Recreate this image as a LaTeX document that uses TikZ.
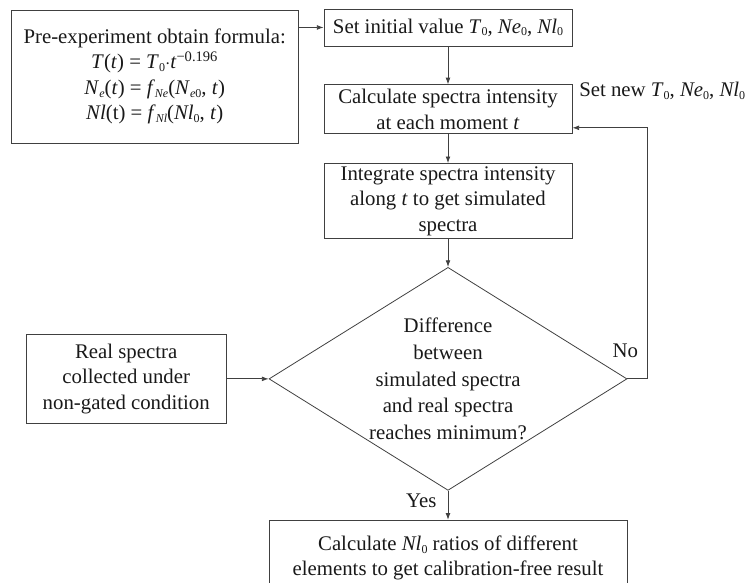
\documentclass[tikz,border=0pt]{standalone}
\usepackage{fontspec}
\setmainfont{Liberation Serif}
\usetikzlibrary{arrows.meta, positioning, shapes.geometric}

\newcommand{\vi}[1]{\textit{#1}}
\newcommand{\sbs}[1]{\raisebox{-0.3ex}{\fontsize{9}{9}\selectfont #1}}

\begin{document}
\begin{tikzpicture}[>={Latex[length=5pt,width=3.6pt]}, line width=0.6pt, text=black!90,
    font=\fontsize{15.6}{19.1}\selectfont,
    box/.style={draw=black!75, align=center, inner sep=2pt},
    conn/.style={->, draw=black!75}]
    \useasboundingbox (0,0) rectangle (561pt,-436.5pt);

    % Main column
    \node[box, minimum width=186pt, minimum height=27.75pt] (init) at (336pt,-20.6pt) {Set initial value \vi{T}\sbs{0}, \vi{Ne}\sbs{0}, \vi{Nl}\sbs{0}};
    \node[box, minimum width=186pt, minimum height=36.75pt, below=28.5pt of init] (calc) {Calculate spectra intensity\\at each moment \vi{t}};
    \node[box, minimum width=186pt, minimum height=56.25pt, below=21.75pt of calc] (integ) {Integrate spectra intensity\\along \vi{t} to get simulated\\spectra};

    % Decision
    \node[draw=black!75, diamond, aspect=1.6, inner sep=0pt, minimum width=268.5pt, minimum height=167.25pt, align=center,
          font=\fontsize{15.6}{19.9}\selectfont, below=21pt of integ] (dec) {Difference\\between\\simulated spectra\\and real spectra\\reaches minimum?};

    % Result
    \node[box, minimum width=268.5pt, minimum height=57pt, below=21.75pt of dec] (result) {Calculate \vi{Nl}\sbs{0} ratios of different\\elements to get calibration-free result};

    % Side boxes
    \node[box, minimum width=215.25pt, minimum height=99.75pt, left=18.75pt of init.north west, anchor=north east, yshift=-0.75pt] (pre)
        {Pre-experiment obtain formula:\\
         \vi{T}(\vi{t}) = \vi{T}\sbs{0}$\cdot$\vi{t}\textsuperscript{−0.196}\\
         \vi{N}\sbs{\vi{e}}(\vi{t}) = \vi{f}\sbs{\vi{Ne}}(\vi{N}\sbs{\vi{e}0}, \vi{t})\\
         \vi{Nl}(t) = \vi{f}\sbs{\vi{Nl}}(\vi{Nl}\sbs{0}, \vi{t})};
    \node[box, minimum width=150pt, minimum height=66.75pt, left=31.5pt of dec] (real) {Real spectra\\collected under\\non-gated condition};

    % Arrows
    \draw[conn] (pre.east |- init.west) -- (init.west);
    \draw[conn] (init) -- (calc);
    \draw[conn] (calc) -- (integ);
    \draw[conn] (integ) -- (dec);
    \draw[conn] (real) -- (dec);
    \draw[conn] (dec) -- node[left, pos=0.35, xshift=-5pt] (yes) {Yes} (result);
    \draw[conn] (dec.east) -- ++(15pt,0) |- ([yshift=-13.9pt]calc.east);

    % Loop labels
    \node[above=12.4pt of dec.east, xshift=-1.5pt] (no) {No};
    \node[right=1.5pt of calc.east, yshift=13.9pt] (setnew) {Set new \vi{T}\sbs{0}, \vi{Ne}\sbs{0}, \vi{Nl}\sbs{0}};
\end{tikzpicture}
\end{document}
